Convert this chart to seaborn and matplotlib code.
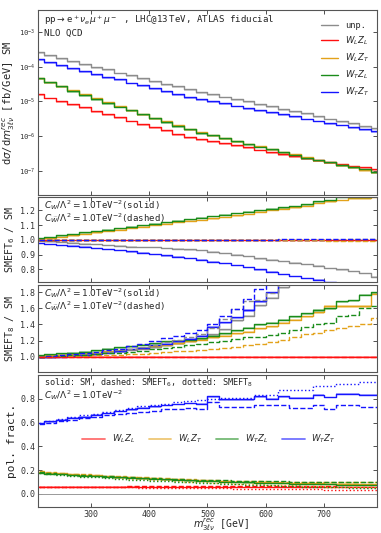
import numpy as np
import matplotlib
matplotlib.use('Agg')
import matplotlib.pyplot as plt
from matplotlib.lines import Line2D
from matplotlib.ticker import FormatStrFormatter, NullLocator, FixedLocator
import seaborn as sns

# bins in m_3lv^rec [GeV], 20 GeV wide
edges = np.arange(200, 801, 20)

# --- differential cross sections, SM [fb/GeV]
xs_unp = [2.63e-4, 2.19e-4, 1.78e-4, 1.48e-4, 1.2e-4, 1.0e-4, 8.3e-5, 6.8e-5, 5.6e-5, 4.7e-5,
          3.9e-5, 3.2e-5, 2.7e-5, 2.24e-5, 1.9e-5, 1.62e-5, 1.38e-5, 1.17e-5, 1.0e-5, 8.5e-6,
          7.2e-6, 6.2e-6, 5.25e-6, 4.5e-6, 3.8e-6, 3.2e-6, 2.75e-6, 2.35e-6, 2.0e-6, 1.7e-6]
xs_ll = [1.62e-5, 1.29e-5, 1.05e-5, 8.3e-6, 6.8e-6, 5.4e-6, 4.4e-6, 3.5e-6, 2.8e-6, 2.24e-6,
         1.82e-6, 1.45e-6, 1.17e-6, 9.3e-7, 8.1e-7, 7.1e-7, 6.2e-7, 5.4e-7, 4.7e-7, 4.1e-7,
         3.55e-7, 3.1e-7, 2.7e-7, 2.35e-7, 2.04e-7, 1.78e-7, 1.58e-7, 1.41e-7, 1.26e-7, 1.12e-7]
xs_lt = [4.8e-5, 3.6e-5, 2.75e-5, 2.08e-5, 1.58e-5, 1.22e-5, 9.3e-6, 7.2e-6, 5.6e-6, 4.4e-6,
         3.4e-6, 2.65e-6, 2.05e-6, 1.6e-6, 1.3e-6, 1.08e-6, 8.9e-7, 7.4e-7, 6.1e-7, 5.1e-7,
         4.25e-7, 3.55e-7, 2.95e-7, 2.45e-7, 2.06e-7, 1.75e-7, 1.48e-7, 1.25e-7, 1.07e-7, 9.0e-8]
xs_tl = [4.7e-5, 3.55e-5, 2.7e-5, 2.04e-5, 1.55e-5, 1.2e-5, 9.1e-6, 7.1e-6, 5.5e-6, 4.3e-6,
         3.3e-6, 2.6e-6, 2.0e-6, 1.55e-6, 1.26e-6, 1.05e-6, 8.7e-7, 7.2e-7, 6.0e-7, 5.0e-7,
         4.2e-7, 3.5e-7, 2.9e-7, 2.4e-7, 2.04e-7, 1.74e-7, 1.48e-7, 1.26e-7, 1.1e-7, 9.3e-8]
xs_tt = [1.66e-4, 1.38e-4, 1.12e-4, 9.3e-5, 7.6e-5, 6.3e-5, 5.1e-5, 4.3e-5, 3.5e-5, 2.95e-5,
         2.4e-5, 2.0e-5, 1.66e-5, 1.35e-5, 1.17e-5, 1.0e-5, 8.7e-6, 7.6e-6, 6.6e-6, 5.75e-6,
         5.0e-6, 4.4e-6, 3.8e-6, 3.2e-6, 2.8e-6, 2.45e-6, 2.15e-6, 1.86e-6, 1.62e-6, 1.41e-6]

# --- SMEFT6 / SM  (solid: C_W, dashed: C_Wtilde)
r6_unp = [0.995, 0.99, 0.985, 0.98, 0.975, 0.97, 0.965, 0.96, 0.955, 0.95, 0.95, 0.945, 0.94, 0.935, 0.93,
          0.92, 0.91, 0.90, 0.89, 0.875, 0.865, 0.855, 0.845, 0.835, 0.825, 0.81, 0.80, 0.79, 0.775, 0.75]
r6_ll = [1.0] * 30
r6_lt = [1.005, 1.01, 1.02, 1.03, 1.04, 1.05, 1.06, 1.07, 1.08, 1.09, 1.10, 1.11, 1.12, 1.13, 1.135,
         1.145, 1.155, 1.165, 1.175, 1.19, 1.20, 1.21, 1.22, 1.23, 1.25, 1.26, 1.27, 1.28, 1.28, 1.29]
r6_tl = [1.01, 1.02, 1.03, 1.04, 1.05, 1.06, 1.07, 1.08, 1.09, 1.10, 1.11, 1.12, 1.13, 1.14, 1.15,
         1.16, 1.17, 1.18, 1.19, 1.20, 1.21, 1.22, 1.23, 1.24, 1.26, 1.27, 1.29, 1.29, 1.29, 1.30]
r6_tt = [0.977, 0.972, 0.966, 0.96, 0.953, 0.945, 0.937, 0.93, 0.922, 0.914, 0.905, 0.895, 0.886, 0.876, 0.865,
         0.853, 0.842, 0.83, 0.815, 0.80, 0.785, 0.77, 0.755, 0.74, 0.73, 0.715, 0.70, 0.685, 0.67, 0.655]
r6t_unp = [1.0, 1.0, 1.0, 1.0, 1.0, 1.0, 1.0, 1.0, 1.0, 1.0, 1.0, 1.0, 1.0, 1.0, 1.0,
           1.0, 1.0, 1.0, 1.0, 1.0, 1.0, 1.001, 1.001, 1.001, 1.002, 1.002, 1.002, 1.003, 1.003, 1.003]
r6t_ll = [1.0] * 30
r6t_lt = [0.999, 0.999, 0.999, 0.999, 0.999, 0.998, 0.998, 0.998, 0.998, 0.998, 0.998, 0.998, 0.997, 0.997, 0.997,
          0.997, 0.997, 0.997, 0.997, 0.996, 0.996, 0.996, 0.996, 0.996, 0.996, 0.995, 0.995, 0.995, 0.995, 0.995]
r6t_tl = [1.0] * 30
r6t_tt = [1.0, 1.0, 1.0, 1.0, 1.0, 1.0, 1.0, 1.0, 1.0, 1.0, 1.0, 1.0, 1.0, 1.0, 1.001,
          1.001, 1.001, 1.001, 1.002, 1.002, 1.002, 1.003, 1.003, 1.003, 1.004, 1.004, 1.005, 1.006, 1.006, 1.005]

# --- SMEFT8 / SM
r8_unp = [1.0, 1.005, 1.01, 1.02, 1.03, 1.04, 1.055, 1.07, 1.085, 1.10, 1.12, 1.14, 1.17, 1.20, 1.23,
          1.28, 1.34, 1.45, 1.51, 1.64, 1.73, 1.86, 1.98, 2.1, 2.2, 2.3, 2.4, 2.5, 2.6, 2.7]
r8_ll = [1.0] * 30
r8_lt = [1.01, 1.02, 1.025, 1.03, 1.04, 1.05, 1.065, 1.08, 1.095, 1.11, 1.13, 1.15, 1.17, 1.19, 1.21,
         1.24, 1.26, 1.29, 1.31, 1.35, 1.38, 1.42, 1.46, 1.50, 1.55, 1.63, 1.63, 1.63, 1.63, 1.78]
r8_tl = [1.02, 1.03, 1.04, 1.05, 1.06, 1.08, 1.10, 1.12, 1.13, 1.15, 1.17, 1.19, 1.20, 1.21, 1.23,
         1.26, 1.29, 1.33, 1.36, 1.40, 1.42, 1.46, 1.50, 1.54, 1.58, 1.60, 1.69, 1.70, 1.77, 1.80]
r8_tt = [0.99, 0.995, 1.0, 1.01, 1.02, 1.03, 1.05, 1.07, 1.09, 1.11, 1.14, 1.16, 1.19, 1.22, 1.26,
         1.37, 1.43, 1.49, 1.58, 1.69, 1.80, 1.92, 2.0, 2.1, 2.2, 2.3, 2.4, 2.5, 2.6, 2.7]
r8t_unp = [1.0, 1.005, 1.01, 1.02, 1.03, 1.045, 1.06, 1.08, 1.10, 1.12, 1.15, 1.18, 1.21, 1.24, 1.28,
           1.35, 1.47, 1.59, 1.69, 1.70, 1.79, 1.95, 2.05, 2.15, 2.25, 2.35, 2.45, 2.55, 2.65, 2.75]
r8t_ll = [1.0] * 30
r8t_lt = [0.995, 1.0, 1.005, 1.01, 1.012, 1.015, 1.02, 1.025, 1.03, 1.035, 1.045, 1.055, 1.065, 1.075, 1.085,
          1.095, 1.11, 1.125, 1.14, 1.16, 1.18, 1.21, 1.25, 1.28, 1.30, 1.33, 1.36, 1.38, 1.40, 1.48]
r8t_tl = [1.0, 1.005, 1.01, 1.015, 1.02, 1.03, 1.04, 1.05, 1.06, 1.075, 1.09, 1.11, 1.125, 1.14, 1.16,
          1.18, 1.20, 1.22, 1.24, 1.25, 1.27, 1.30, 1.33, 1.37, 1.41, 1.42, 1.50, 1.52, 1.61, 1.63]
r8t_tt = [1.0, 1.01, 1.02, 1.03, 1.045, 1.06, 1.08, 1.10, 1.13, 1.16, 1.20, 1.23, 1.26, 1.29, 1.33,
          1.41, 1.51, 1.59, 1.71, 1.84, 1.95, 2.05, 2.15, 2.25, 2.35, 2.45, 2.55, 2.65, 2.75, 2.85]

# --- polarisation fractions (solid: SM, dashed: SMEFT6, dotted: SMEFT8)
pf_ll_sm = [0.062, 0.062, 0.061, 0.061, 0.061, 0.060, 0.060, 0.060, 0.060, 0.059, 0.059, 0.059, 0.059, 0.059, 0.058,
            0.058, 0.058, 0.058, 0.058, 0.058, 0.057, 0.057, 0.057, 0.057, 0.057, 0.057, 0.056, 0.056, 0.056, 0.056]
pf_ll_d6 = [0.062, 0.062, 0.062, 0.062, 0.062, 0.062, 0.062, 0.062, 0.063, 0.063, 0.063, 0.063, 0.064, 0.064, 0.064,
            0.065, 0.065, 0.066, 0.066, 0.067, 0.067, 0.068, 0.068, 0.069, 0.070, 0.070, 0.071, 0.072, 0.073, 0.074]
pf_ll_d8 = [0.061, 0.061, 0.060, 0.059, 0.058, 0.057, 0.056, 0.055, 0.054, 0.053, 0.052, 0.051, 0.050, 0.049, 0.048,
            0.047, 0.046, 0.045, 0.044, 0.043, 0.042, 0.041, 0.040, 0.039, 0.038, 0.037, 0.036, 0.035, 0.034, 0.033]
pf_lt_sm = [0.185, 0.178, 0.172, 0.166, 0.16, 0.155, 0.15, 0.145, 0.14, 0.135, 0.13, 0.126, 0.122, 0.118, 0.114,
            0.11, 0.107, 0.104, 0.101, 0.098, 0.096, 0.094, 0.092, 0.09, 0.088, 0.087, 0.086, 0.085, 0.084, 0.083]
pf_lt_d6 = [0.19, 0.182, 0.176, 0.17, 0.164, 0.158, 0.153, 0.148, 0.143, 0.138, 0.134, 0.13, 0.126, 0.122, 0.118,
            0.115, 0.112, 0.11, 0.108, 0.106, 0.104, 0.103, 0.102, 0.101, 0.1, 0.1, 0.099, 0.099, 0.098, 0.098]
pf_lt_d8 = [0.183, 0.175, 0.168, 0.161, 0.154, 0.147, 0.141, 0.135, 0.129, 0.123, 0.118, 0.113, 0.108, 0.103, 0.099,
            0.095, 0.091, 0.087, 0.083, 0.08, 0.077, 0.074, 0.071, 0.068, 0.065, 0.062, 0.06, 0.058, 0.056, 0.054]
pf_tl_sm = [0.175, 0.17, 0.165, 0.159, 0.153, 0.148, 0.143, 0.138, 0.134, 0.13, 0.126, 0.122, 0.118, 0.114, 0.11,
            0.106, 0.103, 0.1, 0.097, 0.094, 0.092, 0.09, 0.087, 0.085, 0.083, 0.081, 0.079, 0.077, 0.075, 0.073]
pf_tl_d6 = [0.18, 0.173, 0.167, 0.162, 0.157, 0.152, 0.147, 0.142, 0.138, 0.134, 0.13, 0.127, 0.124, 0.121, 0.118,
            0.115, 0.113, 0.111, 0.109, 0.107, 0.106, 0.105, 0.104, 0.103, 0.102, 0.101, 0.101, 0.1, 0.1, 0.1]
pf_tl_d8 = [0.172, 0.165, 0.158, 0.151, 0.144, 0.138, 0.132, 0.126, 0.12, 0.115, 0.11, 0.105, 0.1, 0.096, 0.092,
            0.088, 0.084, 0.08, 0.077, 0.074, 0.071, 0.068, 0.065, 0.062, 0.059, 0.057, 0.055, 0.053, 0.051, 0.049]
pf_tt_sm = [0.597, 0.61, 0.625, 0.64, 0.65, 0.665, 0.68, 0.695, 0.71, 0.725, 0.735, 0.745, 0.755, 0.765, 0.76,
            0.82, 0.795, 0.795, 0.795, 0.82, 0.80, 0.82, 0.81, 0.81, 0.834, 0.815, 0.843, 0.843, 0.834, 0.834]
pf_tt_d6 = [0.59, 0.60, 0.615, 0.625, 0.635, 0.65, 0.66, 0.67, 0.68, 0.69, 0.70, 0.71, 0.715, 0.72, 0.717,
            0.772, 0.73, 0.73, 0.73, 0.75, 0.745, 0.745, 0.72, 0.72, 0.75, 0.717, 0.75, 0.75, 0.73, 0.73]
pf_tt_d8 = [0.60, 0.615, 0.63, 0.645, 0.66, 0.675, 0.69, 0.705, 0.72, 0.735, 0.75, 0.76, 0.77, 0.78, 0.79,
            0.80, 0.81, 0.81, 0.81, 0.834, 0.834, 0.87, 0.87, 0.87, 0.906, 0.906, 0.926, 0.926, 0.94, 0.94]

c_unp, c_ll, c_lt, c_tl, c_tt = '#8c8c8c', '#ff1010', '#e3a21a', '#1a8c1a', '#1515ff'
labels = ['unp.', r'$W_LZ_L$', r'$W_LZ_T$', r'$W_TZ_L$', r'$W_TZ_T$']

sns.set_style('ticks')
plt.rcParams['font.family'] = ['DejaVu Sans Mono', 'DejaVu Sans']
plt.rcParams['mathtext.fontset'] = 'dejavusans'
plt.rcParams['axes.edgecolor'] = '#555555'
plt.rcParams['axes.linewidth'] = 0.8


def step(ax, vals, color, ls='-', lw=1.0, band=None, log=False):
    y = np.append(vals, vals[-1])
    if band is not None:
        lo = y * (1 - band) if log else y - band
        ax.fill_between(edges, lo, y + (0 if log else band * 0.3), step='post',
                        color=color, alpha=0.35, lw=0)
    sns.lineplot(x=edges, y=y, ax=ax, color=color, linestyle=ls, lw=lw,
                 drawstyle='steps-post', legend=False, errorbar=None)


fig = plt.figure(figsize=(3.81, 5.33), dpi=100)
ax1 = fig.add_axes([0.0997, 0.6341, 0.8898, 0.3471])
ax2 = fig.add_axes([0.0997, 0.4709, 0.8898, 0.1595])
ax3 = fig.add_axes([0.0997, 0.3021, 0.8898, 0.1632])
ax4 = fig.add_axes([0.0997, 0.0488, 0.8898, 0.2477])

# panel 1: SM distributions
for vals, col in [(xs_unp, c_unp), (xs_ll, c_ll), (xs_lt, c_lt), (xs_tl, c_tl), (xs_tt, c_tt)]:
    step(ax1, vals, col, band=0.12, log=True)
ax1.set_yscale('log')
ax1.set_ylim(2e-8, 4.3e-3)
ax1.yaxis.set_minor_locator(NullLocator())
ax1.set_ylabel(r'd$\sigma$/d$m^{rec}_{3\ell\nu}$ [fb/GeV] SM', fontsize=7.5)
ax1.text(0.018, 0.946, r'pp$\rightarrow$e$^+\nu_e\mu^+\mu^-$ , LHC@13$\,$TeV, ATLAS fiducial',
         transform=ax1.transAxes, fontsize=6.6, va='center')
ax1.text(0.018, 0.876, 'NLO QCD', transform=ax1.transAxes, fontsize=6.6, va='center')
h1 = [Line2D([], [], color=c, lw=1.0) for c in [c_unp, c_ll, c_lt, c_tl, c_tt]]
ax1.legend(h1, labels, loc='upper right', bbox_to_anchor=(1.0, 0.985), frameon=False,
           fontsize=6.2, handlelength=2.0, labelspacing=0.55, handletextpad=0.8)

# panel 2: SMEFT6 / SM
for vals, col in [(r6_unp, c_unp), (r6_ll, c_ll), (r6_lt, c_lt), (r6_tl, c_tl), (r6_tt, c_tt)]:
    step(ax2, vals, col, band=0.008)
for vals, col in [(r6t_unp, c_unp), (r6t_tl, c_tl), (r6t_ll, c_ll), (r6t_lt, c_lt), (r6t_tt, c_tt)]:
    step(ax2, vals, col, ls='--')
ax2.set_ylim(0.715, 1.29)
ax2.yaxis.set_major_locator(FixedLocator([0.8, 0.9, 1.0, 1.1, 1.2]))
ax2.set_ylabel(r'SMEFT$_6$ / SM', fontsize=7.2)

# panel 3: SMEFT8 / SM
for vals, col in [(r8_unp, c_unp), (r8_lt, c_lt), (r8_tl, c_tl), (r8_tt, c_tt), (r8_ll, c_ll)]:
    step(ax3, vals, col, band=0.02)
for vals, col in [(r8t_unp, c_unp), (r8t_lt, c_lt), (r8t_tl, c_tl), (r8t_tt, c_tt), (r8t_ll, c_ll)]:
    step(ax3, vals, col, ls='--')
ax3.set_ylim(0.81, 1.89)
ax3.yaxis.set_major_locator(FixedLocator([1.0, 1.2, 1.4, 1.6, 1.8]))
ax3.set_ylabel(r'SMEFT$_8$ / SM', fontsize=7.2)

for ax in (ax2, ax3):
    ax.text(0.018, 0.905, r'$C_W/\Lambda^2 = 1.0$TeV$^{-2}$(solid)', transform=ax.transAxes,
            fontsize=6.5, va='center')
    ax.text(0.018, 0.755, r'$C_{\widetilde{W}}/\Lambda^2 = 1.0$TeV$^{-2}$(dashed)', transform=ax.transAxes,
            fontsize=6.5, va='center')

# panel 4: polarisation fractions
ax4.axhline(0.0, color='#999999', lw=0.7)
for sm, d6, d8, col in [(pf_ll_sm, pf_ll_d6, pf_ll_d8, c_ll), (pf_lt_sm, pf_lt_d6, pf_lt_d8, c_lt),
                        (pf_tl_sm, pf_tl_d6, pf_tl_d8, c_tl), (pf_tt_sm, pf_tt_d6, pf_tt_d8, c_tt)]:
    step(ax4, sm, col, band=0.01)
    step(ax4, d6, col, ls='--')
    step(ax4, d8, col, ls=':')
ax4.set_ylim(-0.11, 1.0)
ax4.yaxis.set_major_locator(FixedLocator([0.0, 0.2, 0.4, 0.6, 0.8]))
ax4.set_ylabel('pol. fract.', fontsize=8)
ax4.text(0.018, 0.94, r'solid: SM, dashed: SMEFT$_6$, dotted: SMEFT$_8$', transform=ax4.transAxes,
         fontsize=6.1, va='center')
ax4.text(0.018, 0.85, r'$C_W/\Lambda^2 = 1.0$TeV$^{-2}$', transform=ax4.transAxes,
         fontsize=6.5, va='center')
h4 = [Line2D([], [], color=c, lw=1.3, alpha=0.6) for c in [c_ll, c_lt, c_tl, c_tt]]
ax4.legend(h4, labels[1:], loc='center', bbox_to_anchor=(0.505, 0.515), ncol=4, frameon=False,
           fontsize=6.2, handlelength=2.6, columnspacing=1.6, handletextpad=0.8)
ax4.set_xlabel(r'$m^{rec}_{3\ell\nu}$ [GeV]', fontsize=7)

for ax in (ax1, ax2, ax3, ax4):
    ax.set_xlim(210, 790)
    ax.xaxis.set_major_locator(FixedLocator([300, 400, 500, 600, 700]))
    ax.tick_params(direction='in', top=True, right=True, labelsize=6, length=3, width=0.6,
                   colors='#333333', pad=2)
    if ax is not ax4:
        ax.tick_params(labelbottom=False)
        ax.set_xlabel('')
    if ax is not ax1:
        ax.yaxis.set_major_formatter(FormatStrFormatter('%.1f'))
    ax.yaxis.set_label_coords(-0.062, 0.5)
ax1.tick_params(axis='y', labelsize=5.2, pad=1.5)
ax4.xaxis.set_label_coords(0.54, -0.076)

fig.savefig('out.png', dpi=100)
